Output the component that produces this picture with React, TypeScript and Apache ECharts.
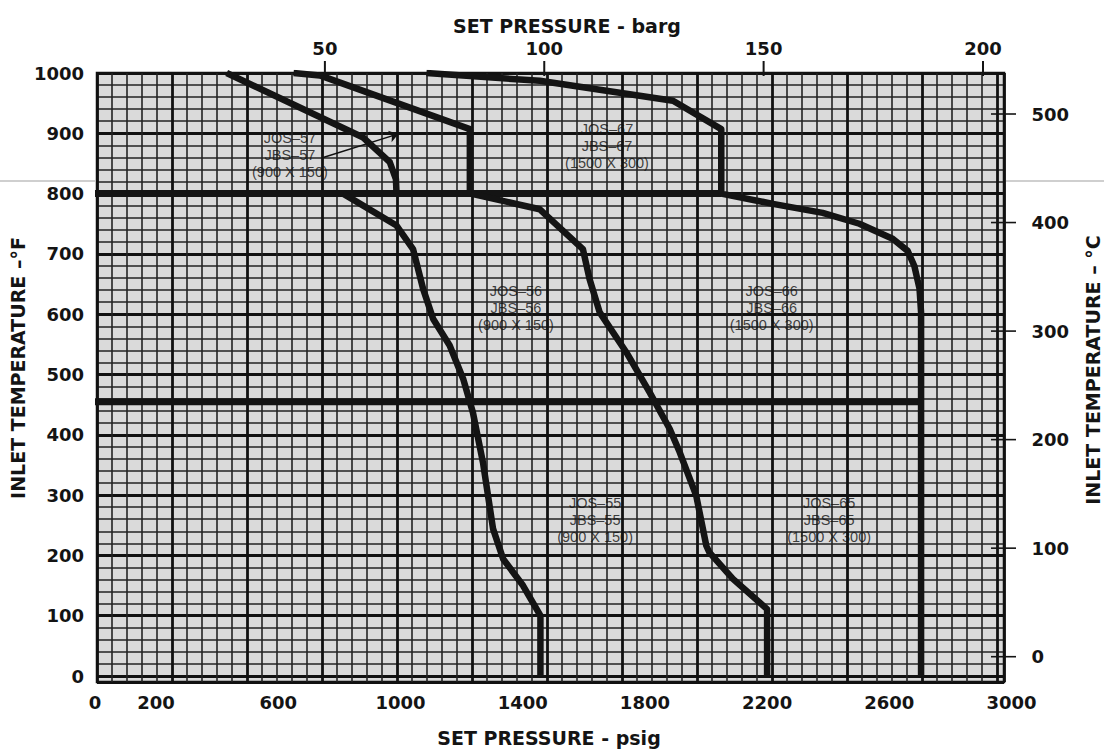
import React, { useEffect, useRef } from "react";
import * as echarts from "echarts";

// ---- axis ticks ----
const psigLabels = [0, 200, 600, 1000, 1400, 1800, 2200, 2600, 3000];
const bargLabels = [50, 100, 150, 200];
const celsiusLabels = [0, 100, 200, 300, 400, 500];

// ---- boundary curves: [set pressure psig, inlet temperature °F] ----
const curve900Upper = [[431, 1000], [878, 893], [965, 852], [985, 824], [987, 800]];
const curve1500UpperLeft = [[650, 1000], [736, 996], [1227, 907], [1227, 800]];
const curve1500UpperRight = [
  [1085, 1000], [1456, 987], [1892, 954], [2050, 907], [2050, 800], [2219, 783],
  [2382, 768], [2502, 750], [2611, 725], [2660, 705], [2682, 680], [2699, 642],
  [2704, 603], [2704, 0],
];
const curve1500Lower = [
  [1230, 800], [1456, 774], [1597, 708], [1619, 658], [1652, 603], [1739, 537],
  [1816, 470], [1881, 410], [1914, 371], [1968, 299], [2001, 216], [2011, 205],
  [2088, 161], [2200, 111], [2200, 0],
];
const curve900Lower = [
  [812, 800], [987, 747], [1041, 708], [1063, 664], [1074, 642], [1107, 592],
  [1161, 548], [1205, 493], [1237, 437], [1270, 354], [1303, 244], [1336, 194],
  [1401, 150], [1458, 100], [1458, 0],
];
const line800F = [[0, 800], [2050, 800]];
const line455F = [[0, 455], [2704, 455]];

// ---- region labels ----
const regionNames = [
  "JOS–57\nJBS–57\n(900 X 150)",
  "JOS–67\nJBS–67\n(1500 X 300)",
  "JOS–56\nJBS–56\n(900 X 150)",
  "JOS–66\nJBS–66\n(1500 X 300)",
  "JOS–55\nJBS–55\n(900 X 150)",
  "JOS–65\nJBS–65\n(1500 X 300)",
];
const regionPsig = [638, 1676, 1378, 2215, 1637, 2403];
const regionTemp = [864, 879, 610, 611, 258, 258];
const arrowFrom = [747, 860];
const arrowTo = [993, 899];

const BOLD = "'DejaVu Sans', sans-serif";
const INK = "#141414";

export default function App() {
  const ref = useRef<HTMLDivElement>(null);
  useEffect(() => {
    if (!ref.current) return;
    const chart = echarts.init(ref.current, null, { renderer: "svg" });
    const curveSeries = (data: number[][], width = 6.5) => ({
      type: "line",
      xAxisIndex: 0,
      yAxisIndex: 0,
      data,
      symbol: "none",
      showSymbol: false,
      silent: true,
      z: 5,
      lineStyle: { color: INK, width, join: "round", cap: "butt" },
    });
    const plain = (v: number) => String(v);
    const tickFont = { fontFamily: BOLD, fontWeight: "bold", fontSize: 18, color: INK, formatter: plain };
    const titleStyle = { fontFamily: BOLD, fontWeight: "bold", fontSize: 19, fill: INK, align: "center", verticalAlign: "middle" };
    chart.setOption({
      animation: false,
      backgroundColor: "#ffffff",
      grid: [
        { left: 95, top: 73, width: 916.5, height: 603, show: false },
        {
          left: 97, top: 73, width: 907, height: 609, show: true,
          backgroundColor: "#dadada", borderColor: "#111", borderWidth: 2.5, z: 0,
        },
      ],
      xAxis: [
        {
          type: "value", gridIndex: 0, position: "bottom", min: 0, max: 3000,
          axisLine: { show: false }, axisTick: { show: false }, splitLine: { show: false },
          axisLabel: { ...tickFont, customValues: psigLabels, margin: 17 },
        },
        {
          type: "value", gridIndex: 0, position: "top", min: -2.4, max: 206.5,
          axisLine: { show: false }, splitLine: { show: false }, axisTick: { show: false },
          axisLabel: { ...tickFont, customValues: bargLabels, margin: 16 },
        },
        {
          type: "value", gridIndex: 1, min: 0, max: 907 / 75, interval: 1,
          axisLine: { show: false }, axisTick: { show: false }, axisLabel: { show: false },
          minorTick: { show: false, splitNumber: 5 },
          splitLine: { show: true, lineStyle: { color: "#111", width: 2.8 } },
          minorSplitLine: { show: true, lineStyle: { color: "#222", width: 1.6 } },
        },
      ],
      yAxis: [
        {
          type: "value", gridIndex: 0, position: "left", min: 0, max: 1000, interval: 100,
          axisLine: { show: false }, axisTick: { show: false }, splitLine: { show: false },
          axisLabel: { ...tickFont, margin: 11 },
        },
        {
          type: "value", gridIndex: 0, position: "right", offset: -22,
          min: (0 - 32) / 1.8, max: (1000 - 32) / 1.8,
          axisLine: { show: false }, splitLine: { show: false }, axisTick: { show: false },
          axisLabel: { ...tickFont, customValues: celsiusLabels, margin: 42 },
        },
        {
          type: "value", gridIndex: 1, inverse: true, min: 0, max: 609 / 60.3, interval: 1,
          axisLine: { show: false }, axisTick: { show: false }, axisLabel: { show: false },
          minorTick: { show: false, splitNumber: 5 },
          splitLine: { show: true, lineStyle: { color: "#111", width: 2.8 } },
          minorSplitLine: { show: true, lineStyle: { color: "#222", width: 1.6 } },
        },
      ],
      graphic: [
        { id: "scan1", type: "line", shape: { x1: 0, y1: 181, x2: 95, y2: 181 }, style: { stroke: "#cfcfcf", lineWidth: 2 }, silent: true },
        { id: "scan2", type: "line", shape: { x1: 1006, y1: 181, x2: 1104, y2: 181 }, style: { stroke: "#cfcfcf", lineWidth: 2 }, silent: true },
        { id: "tTop", type: "text", x: 567, y: 26, style: { ...titleStyle, text: "SET PRESSURE - barg" } },
        { id: "tBot", type: "text", x: 549, y: 738, style: { ...titleStyle, text: "SET PRESSURE - psig" } },
        { id: "tLeft", type: "text", x: 18, y: 368, rotation: Math.PI / 2, style: { ...titleStyle, text: "INLET TEMPERATURE –°F" } },
        { id: "tRight", type: "text", x: 1093, y: 370, rotation: Math.PI / 2, style: { ...titleStyle, text: "INLET TEMPERATURE – °C" } },
      ],
      series: [
        curveSeries(line800F, 7),
        curveSeries(line455F, 7),
        curveSeries(curve900Upper),
        curveSeries(curve1500UpperLeft),
        curveSeries(curve1500UpperRight),
        curveSeries(curve1500Lower),
        curveSeries(curve900Lower),
        {
          type: "scatter",
          xAxisIndex: 0,
          yAxisIndex: 0,
          symbolSize: 1,
          itemStyle: { color: "rgba(0,0,0,0)" },
          silent: true,
          z: 6,
          data: regionNames.map((n, i) => ({ name: n, value: [regionPsig[i], regionTemp[i]] })),
          label: {
            show: true,
            position: "inside",
            formatter: (p: any) => p.name,
            fontFamily: "'Liberation Sans', Arial, sans-serif",
            fontSize: 14.5,
            lineHeight: 17,
            color: "#111",
            align: "center",
            verticalAlign: "middle",
          },
          markLine: {
            silent: true,
            symbol: ["none", "arrow"],
            symbolSize: 9,
            label: { show: false },
            lineStyle: { type: "solid", color: "#111", width: 1.5 },
            data: [[{ coord: arrowFrom }, { coord: arrowTo }]],
          },
        },
      ],
    });

    // axis ticks for the barg (top) and °C (right) scales, positioned through the axes
    const ticks: any[] = [];
    bargLabels.forEach((b, i) => {
      const r: any = chart.convertToPixel({ xAxisIndex: 1, yAxisIndex: 0 } as any, [b, 1000]);
      const x = Array.isArray(r) ? r[0] : r;
      ticks.push({
        id: "bt" + i, type: "line", z: 50, silent: true,
        shape: { x1: x, y1: 61, x2: x, y2: 76 }, style: { stroke: INK, lineWidth: 2 },
      });
    });
    celsiusLabels.forEach((c, i) => {
      const y = chart.convertToPixel({ yAxisIndex: 1 }, c) as number;
      ticks.push({
        id: "ct" + i, type: "line", z: 50, silent: true,
        shape: { x1: 991, y1: y, x2: 1016, y2: y }, style: { stroke: INK, lineWidth: 1.6 },
      });
    });
    chart.setOption({ graphic: ticks });
    return () => chart.dispose();
  }, []);
  return (
    <div
      ref={ref}
      style={{ position: "absolute", left: 0, top: 0, width: 1104, height: 755, background: "#fff" }}
    />
  );
}
